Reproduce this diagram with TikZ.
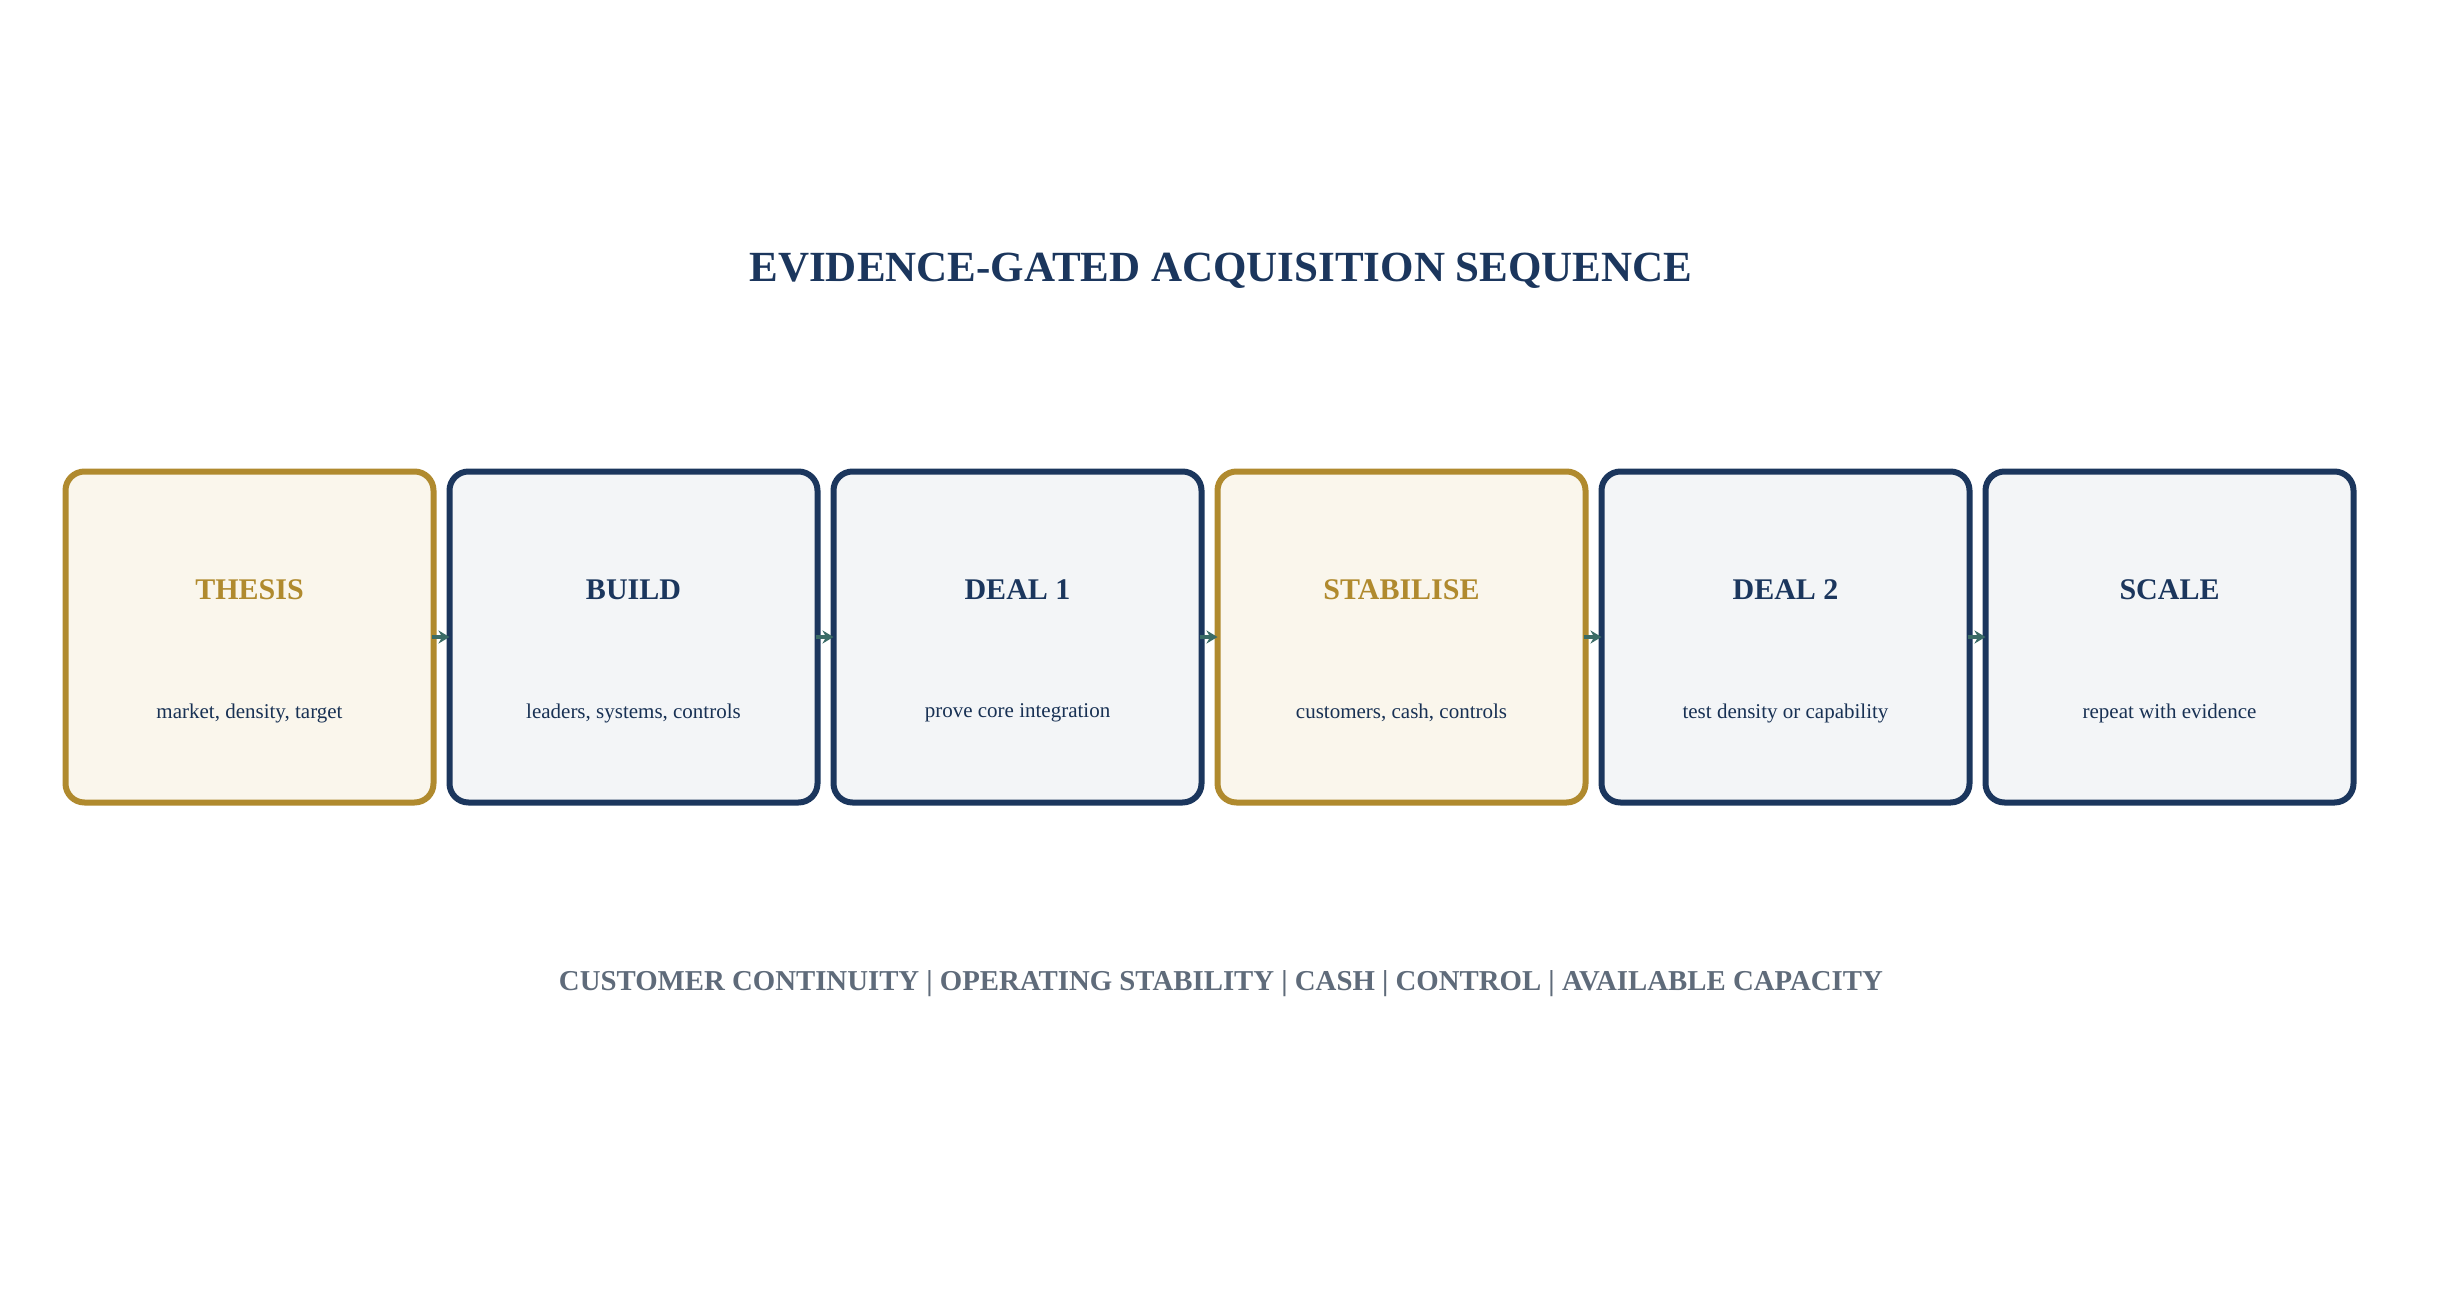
\documentclass[tikz,border=0pt]{standalone}
\usepackage{fontspec}
\setmainfont{Liberation Serif}
\usetikzlibrary{arrows.meta}
\definecolor{navy}{HTML}{1B365D}
\definecolor{gold}{HTML}{B08A2E}
\definecolor{goldfill}{HTML}{FAF6EC}
\definecolor{navyfill}{HTML}{F3F5F7}
\definecolor{teal}{HTML}{3A6B66}
\definecolor{gray}{HTML}{5F6B7A}
\begin{document}
\begin{tikzpicture}[x=1pt,y=-1pt,
 box/.style={draw, line width=6pt, rounded corners=19pt, minimum width=368pt, minimum height=331pt, inner sep=0pt},
 gbox/.style={box, draw=gold, fill=goldfill},
 nbox/.style={box, draw=navy, fill=navyfill},
 ttl/.style={font=\fontsize{30}{36}\selectfont\bfseries},
 sub/.style={font=\fontsize{21}{25}\selectfont, text=navy!90!black},
 arr/.style={draw=teal, line width=4pt, -{Stealth[length=11pt,width=13pt]}}]
\useasboundingbox (0,0) rectangle (2442,1298);
\fill[white] (0,0) rectangle (2442,1298);
\node[font=\fontsize{43}{52}\selectfont\bfseries, text=navy] (title) at (1221,271) {EVIDENCE-GATED ACQUISITION SEQUENCE};
\foreach \n/\x/\s/\c/\t/\d in {a/249.5/gbox/gold/THESIS/{market, density, target},
 b/633.5/nbox/navy/BUILD/{leaders, systems, controls},
 c/1017.5/nbox/navy/DEAL 1/{prove core integration},
 d/1401.5/gbox/gold/STABILISE/{customers, cash, controls},
 e/1785.5/nbox/navy/DEAL 2/{test density or capability},
 f/2169.5/nbox/navy/SCALE/{repeat with evidence}}{
 \node[\s] (\n) at (\x,637) {};
 \node[ttl, text=\c] (\n t) at (\x,590) {\t};
 \node[sub] (\n s) at (\x,713) {\d};
}
\foreach \p/\q in {a/b,b/c,c/d,d/e,e/f}{\draw[arr] ([xshift=-5pt]\p.east) -- ([xshift=3pt]\q.west);}
\node[font=\fontsize{28.8}{34}\selectfont\bfseries, text=gray] (foot) at (1221,984) {CUSTOMER CONTINUITY | OPERATING STABILITY | CASH | CONTROL | AVAILABLE CAPACITY};
\end{tikzpicture}
\end{document}
